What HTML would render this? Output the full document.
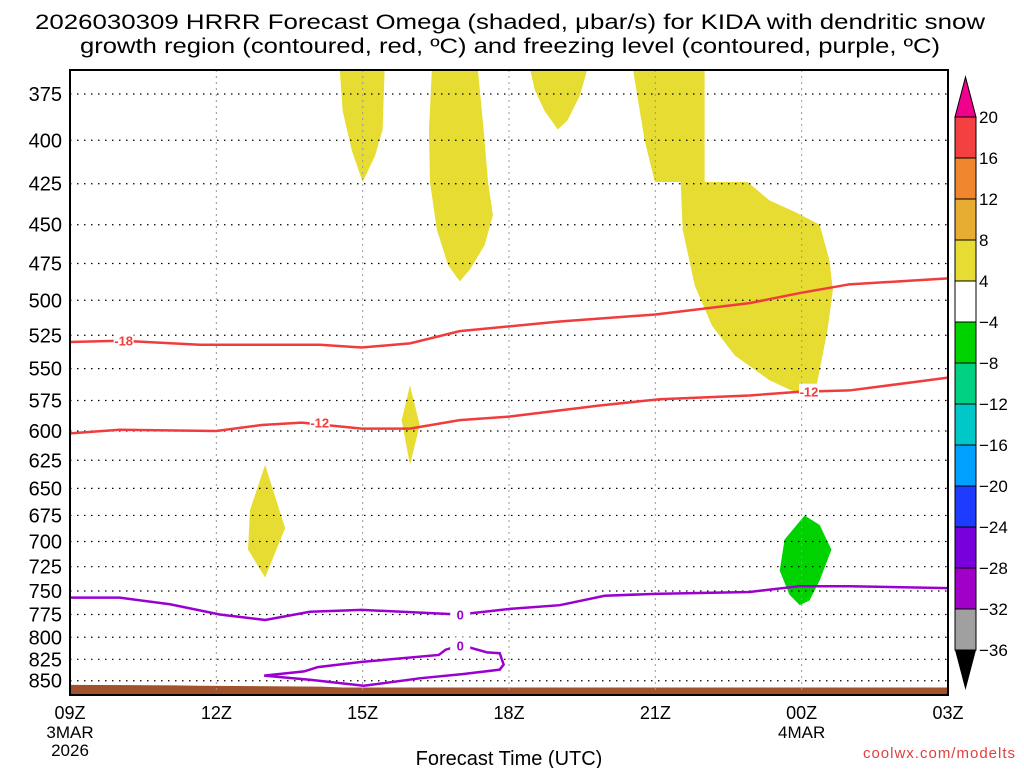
<!DOCTYPE html>
<html><head><meta charset="utf-8"><style>
body{margin:0;background:#fff;width:1024px;height:768px;overflow:hidden;font-family:"Liberation Sans",sans-serif}
svg text{font-family:"Liberation Sans",sans-serif}
</style></head><body>
<svg id="chart" width="1024" height="768" xmlns="http://www.w3.org/2000/svg">
<text x="510" y="29" font-size="21" text-anchor="middle" textLength="950" lengthAdjust="spacingAndGlyphs">2026030309 HRRR Forecast Omega (shaded, μbar/s) for KIDA with dendritic snow</text>
<text x="510" y="53" font-size="21" text-anchor="middle" textLength="860" lengthAdjust="spacingAndGlyphs">growth region (contoured, red, ºC) and freezing level (contoured, purple, ºC)</text>
<text x="509" y="765" font-size="20" text-anchor="middle">Forecast Time (UTC)</text>
<text x="1016" y="758" font-size="15" fill="#e04040" text-anchor="end" letter-spacing="1">coolwx.com/modelts</text>
<g id="plot"></g>
</svg>
<script>
const pressureTicks=[375,400,425,450,475,500,525,550,575,600,625,650,675,700,725,750,775,800,825,850];
const hourTicks=[0,3,6,9,12,15,18];
const hourLabels=["09Z","12Z","15Z","18Z","21Z","00Z","03Z"];
const cbLevels=[20,16,12,8,4,-4,-8,-12,-16,-20,-24,-28,-32,-36];
const cbColors=["#f44040","#f0862e","#e6ad32","#e6dc32","#ffffff","#00d200","#00d282","#00c8c8","#00a0ff","#1e3cff","#7800dc","#a000c8","#a0a0a0"];
const omegaPos1=[[5.53,362],[6.45,362],[6.41,394],[6.25,409],[6.0,424],[5.78,406],[5.59,384]];
const omegaPos2=[[7.42,362],[8.36,362],[8.48,394],[8.57,424],[8.67,444],[8.5,463],[8.2,479],[7.99,487],[7.75,476],[7.52,453],[7.38,424],[7.36,394]];
const omegaPos3=[[9.43,362],[10.61,362],[10.45,376],[10.2,389],[10.0,394],[9.73,384],[9.53,373]];
const omegaPos4=[[11.54,362],[13.01,362],[13.01,424],[13.89,424],[14.34,435],[14.86,442],[15.37,450],[15.57,473],[15.64,493],[15.53,521],[15.37,551],[15.27,570],[14.96,570],[14.34,559],[13.63,540],[13.16,518],[12.81,490],[12.56,453],[12.52,424],[11.99,424],[11.78,400]];
const omegaPos5=[[6.97,563],[7.17,595],[6.97,629],[6.8,591]];
const omegaPos6=[[4.0,629],[4.41,687],[4.0,736],[3.65,708],[3.69,670]];
const omegaNeg1=[[15.06,675],[15.37,684],[15.61,708],[15.37,739],[15.16,760],[14.96,765],[14.75,754],[14.55,729],[14.65,698]];
const lineM18Hours=[0,1.02,2.66,5.12,5.98,6.97,7.99,10.04,12.0,13.93,14.96,15.98,18];
const lineM18Pres=[530,529,532,532,534,531,522,515,510,502,495,489,485];
const lineM12Hours=[0,1.02,3.0,3.93,4.75,5.98,6.97,7.99,9.02,10.86,12.09,13.93,14.96,15.98,18];
const lineM12Pres=[602,599,600,595,593,598,598,591,588,579,574,571,568,567,557];
const freezeHours=[0,1.02,2.05,3.07,4.0,4.92,5.98,7.99,9.02,10.04,10.96,11.99,13.93,14.96,15.98,18];
const freezePres=[757,757,764,775,781,772,770,775,769,765,755,753,751,745,745,747];
const loopHours=[3.98,4.8,5.08,5.98,7.56,7.7,8.01,8.16,8.55,8.81,8.89,8.81,8.07,7.19,6.02,4.94,3.98];
const loopPres=[844,839,834,828,820,814,809,811,817,818,831,837,842,847,856,849,844];
const groundHours=[0,2.15,2.62,5.14,5.59,11.4,18];
const groundPres=[855,855.5,856,857,858,858,858];

const L=70,R=948,T=70,B=695,K=717,P0=375,Y0=94;
const xs=h=>L+h*(R-L)/18;
const ys=p=>Y0+K*Math.log(p/P0);
const NS="http://www.w3.org/2000/svg";
const plot=document.getElementById('plot');
function mk(tag,attrs,parent){const e=document.createElementNS(NS,tag);for(const k in attrs)e.setAttribute(k,attrs[k]);(parent||plot).appendChild(e);return e;}
const clip=mk('clipPath',{id:'pc'});mk('rect',{x:L,y:T,width:R-L,height:B-T},clip);
const g=mk('g',{'clip-path':'url(#pc)'});


function poly(pts,fill,name){const e=mk('polygon',{points:pts.map(q=>xs(q[0])+','+ys(q[1])).join(' '),fill:fill},g);

}
[omegaPos1,omegaPos2,omegaPos3,omegaPos4,omegaPos5,omegaPos6].forEach((s,i)=>poly(s,'#e6dc32','omega-positive-region'));
poly(omegaNeg1,'#00d200','omega-negative-region');
const gp=groundHours.map((h,i)=>xs(h)+','+ys(groundPres[i])).join(' ')+' '+R+','+B+' '+L+','+B;
const gr=mk('polygon',{points:gp,fill:'#a0522d'},g);


pressureTicks.forEach(p=>{const l=mk('line',{x1:L,x2:R,y1:ys(p),y2:ys(p),stroke:'#000','stroke-width':1.2,'stroke-dasharray':'1.5 5.5'},g);


const t=mk('text',{x:62,y:ys(p)+7,'font-size':20,'text-anchor':'end'});t.textContent=p;

});
hourTicks.forEach((h,i)=>{if(i>0&&i<6){const l=mk('line',{x1:xs(h),x2:xs(h),y1:T,y2:B,stroke:'#999','stroke-width':1,'stroke-dasharray':'2 4'},g);

}
const t=mk('text',{x:xs(h),y:719,'font-size':18,'text-anchor':'middle'});t.textContent=hourLabels[i];

});
[['3MAR',xs(0),738],['2026',xs(0),756],['4MAR',xs(15),738]].forEach(a=>{const t=mk('text',{x:a[1],y:a[2],'font-size':17,'text-anchor':'middle'});t.textContent=a[0];

});
function line(hs,ps,col,name){const e=mk('polyline',{points:hs.map((h,i)=>xs(h)+','+ys(ps[i])).join(' '),fill:'none',stroke:col,'stroke-width':2.5},g);

}
line(lineM18Hours,lineM18Pres,'#f03c3c','contour-minus-18');
line(lineM12Hours,lineM12Pres,'#f03c3c','contour-minus-12');
line(freezeHours,freezePres,'#9a00d0','freezing-level-0');
line(loopHours,loopPres,'#9a00d0','freezing-level-loop');
function lab(h,p,txt,col){const r=mk('rect',{x:xs(h)-10,y:ys(p)-8,width:20,height:16,fill:'#fff'},g);
const t=mk('text',{x:xs(h),y:ys(p)+5,'font-size':13,'font-weight':'bold',fill:col,'text-anchor':'middle'},g);t.textContent=txt;

}
lab(1.1,529,'-18','#f03c3c');lab(5.12,593,'-12','#f03c3c');lab(15.15,568,'-12','#f03c3c');
lab(8.0,775,'0','#9a00d0');lab(8.0,809,'0','#9a00d0');
const fr=mk('rect',{x:L,y:T,width:R-L,height:B-T,fill:'none',stroke:'#000','stroke-width':2});


const cbTop=117,cbStep=41,cbX=955,cbW=21;
const cb=mk('g',{});


mk('polygon',{points:`${cbX},${cbTop} ${cbX+cbW},${cbTop} ${cbX+cbW/2},${cbTop-40}`,fill:'#f0008c',stroke:'#000'},cb);
cbColors.forEach((c,i)=>{const r=mk('rect',{x:cbX,y:cbTop+i*cbStep,width:cbW,height:cbStep,fill:c,stroke:'#000','stroke-width':1},cb);

});
const yb=cbTop+cbColors.length*cbStep;
mk('polygon',{points:`${cbX},${yb} ${cbX+cbW},${yb} ${cbX+cbW/2},${yb+40}`,fill:'#000'},cb);
cbLevels.forEach((v,i)=>{const t=mk('text',{x:979,y:cbTop+i*cbStep+6,'font-size':17},cb);t.textContent=v<0?'−'+(-v):v;

});
</script>
</body></html>
